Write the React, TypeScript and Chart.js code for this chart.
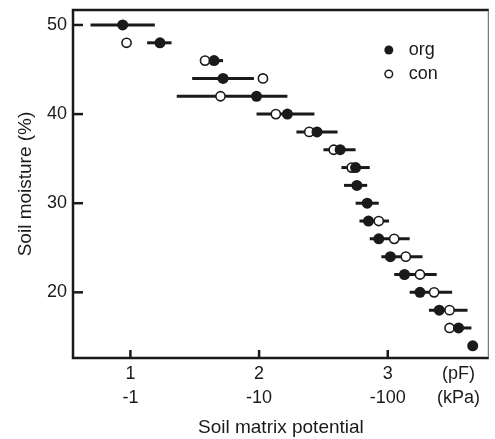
import { useEffect, useRef } from "react";
import { Chart, registerables } from "chart.js";
Chart.register(...registerables);

const orgMoisture = [50, 48, 46, 44, 42, 40, 38, 36, 34, 32, 30, 28, 26, 24, 22, 20, 18, 16, 14];
const orgPF = [0.94, 1.23, 1.65, 1.72, 1.98, 2.22, 2.45, 2.63, 2.75, 2.76, 2.84, 2.85, 2.93, 3.02, 3.13, 3.25, 3.4, 3.55, 3.66];
const orgLow = [0.69, 1.13, 1.62, 1.48, 1.36, 1.98, 2.29, 2.5, 2.64, 2.66, 2.75, 2.78, 2.86, 2.95, 3.05, 3.17, 3.32, 3.48, null];
const orgHigh = [1.19, 1.32, 1.72, 1.96, 2.22, 2.43, 2.61, 2.75, 2.86, 2.84, 2.93, 3.01, 3.17, 3.27, 3.38, 3.5, 3.62, 3.65, null];
const conMoisture = [48, 46, 44, 42, 40, 38, 36, 34, 28, 26, 24, 22, 20, 18, 16];
const conPF = [0.97, 1.58, 2.03, 1.7, 2.13, 2.39, 2.58, 2.72, 2.93, 3.05, 3.14, 3.25, 3.36, 3.48, 3.48];
const xTickValues = [1, 2, 3];
const xTickPF = ["1", "2", "3"];
const xTickKPa = ["-1", "-10", "-100"];
const unitLabels = ["(pF)", "(kPa)"];
const unitLabelPos = 3.55;
const yTickValues = [20, 30, 40, 50];
const seriesNames = ["org", "con"];

const INK = "#1a1a1a";
const FONT = "'Liberation Sans', Arial, Helvetica, sans-serif";

export default function App() {
  const ref = useRef<HTMLCanvasElement | null>(null);
  useEffect(() => {
    document.body.style.margin = "0";
    if (!ref.current) return;

    const decor = {
      id: "decor",
      beforeDatasetsDraw(chart: any) {
        const { ctx, scales } = chart;
        const xs = scales.x, ys = scales.y;
        ctx.save();
        ctx.strokeStyle = INK;
        ctx.lineWidth = 3;
        ctx.lineCap = "butt";
        orgMoisture.forEach((m, i) => {
          const lo = orgLow[i], hi = orgHigh[i];
          if (lo == null || hi == null) return;
          const py = ys.getPixelForValue(m);
          ctx.beginPath();
          ctx.moveTo(xs.getPixelForValue(lo), py);
          ctx.lineTo(xs.getPixelForValue(hi), py);
          ctx.stroke();
        });
        ctx.restore();
      },
      afterDraw(chart: any) {
        const { ctx, chartArea: a, scales } = chart;
        const xs = scales.x, ys = scales.y;
        ctx.save();
        ctx.strokeStyle = INK;
        // frame
        ctx.lineWidth = 2.5;
        ctx.beginPath();
        ctx.moveTo(a.right, a.top);
        ctx.lineTo(a.left, a.top);
        ctx.lineTo(a.left, a.bottom);
        ctx.lineTo(a.right, a.bottom);
        ctx.stroke();
        ctx.lineWidth = 1;
        ctx.strokeStyle = "#555";
        ctx.beginPath();
        ctx.moveTo(a.right - 0.5, a.top);
        ctx.lineTo(a.right - 0.5, a.bottom);
        ctx.stroke();
        // inward ticks
        ctx.strokeStyle = INK;
        ctx.lineWidth = 2.5;
        yTickValues.forEach((v) => {
          const py = ys.getPixelForValue(v);
          ctx.beginPath();
          ctx.moveTo(a.left, py);
          ctx.lineTo(a.left + 10, py);
          ctx.stroke();
        });
        xTickValues.forEach((v) => {
          const px = xs.getPixelForValue(v);
          ctx.beginPath();
          ctx.moveTo(px, a.bottom);
          ctx.lineTo(px, a.bottom - 8);
          ctx.stroke();
        });
        // legend
        const lx = a.right - 100;
        const ly = [a.top + 40, a.top + 64];
        ctx.fillStyle = INK;
        ctx.beginPath();
        ctx.arc(lx, ly[0], 4.5, 0, Math.PI * 2);
        ctx.fill();
        ctx.beginPath();
        ctx.lineWidth = 1.5;
        ctx.fillStyle = "#fff";
        ctx.arc(lx, ly[1], 3.8, 0, Math.PI * 2);
        ctx.fill();
        ctx.stroke();
        ctx.fillStyle = INK;
        ctx.font = `18px ${FONT}`;
        ctx.textBaseline = "middle";
        ctx.textAlign = "left";
        ctx.fillText(seriesNames[0], lx + 20, ly[0]);
        ctx.fillText(seriesNames[1], lx + 20, ly[1]);
        ctx.restore();
      },
    };

    const chart = new Chart(ref.current, {
      type: "scatter",
      data: {
        datasets: [
          {
            label: seriesNames[0],
            data: orgMoisture.map((m, i) => ({ x: orgPF[i], y: m })),
            pointRadius: 5.5,
            pointBackgroundColor: INK,
            pointBorderWidth: 0,
            pointBorderColor: INK,
          },
          {
            label: seriesNames[1],
            data: conMoisture.map((m, i) => ({ x: conPF[i], y: m })),
            pointRadius: 4.6,
            pointBackgroundColor: "#fff",
            pointBorderWidth: 1.6,
            pointBorderColor: INK,
          },
        ],
      },
      options: {
        responsive: false,
        animation: false,
        layout: { padding: { top: 10, right: 2, left: 0, bottom: 0 } },
        plugins: { legend: { display: false }, tooltip: { enabled: false } },
        scales: {
          x: {
            type: "linear",
            min: 0.554,
            max: 3.785,
            grid: { display: false, drawTicks: false },
            border: { display: false },
            afterBuildTicks: (s: any) => {
              s.ticks = [...xTickValues, unitLabelPos].map((v) => ({ value: v }));
            },
            afterFit: (s: any) => {
              s.height = 81;
              s.paddingLeft = 0;
              s.paddingRight = 0;
            },
            ticks: {
              color: INK,
              padding: 5,
              maxRotation: 0,
              autoSkip: false,
              font: { family: FONT, size: 18, lineHeight: 1.28 },
              callback: (_v: any, i: number) =>
                i < xTickValues.length ? [xTickPF[i], xTickKPa[i]] : unitLabels,
            },
            title: {
              display: true,
              text: "Soil matrix potential",
              color: INK,
              font: { family: FONT, size: 19 },
              padding: { top: 0, bottom: 0 },
            },
          },
          y: {
            type: "linear",
            min: 12.63,
            max: 51.68,
            grid: { display: false, drawTicks: false },
            border: { display: false },
            afterBuildTicks: (s: any) => {
              s.ticks = yTickValues.map((v) => ({ value: v }));
            },
            afterFit: (s: any) => {
              s.width = 73;
              s.paddingTop = 0;
              s.paddingBottom = 0;
            },
            ticks: {
              color: INK,
              padding: 6,
              font: { family: FONT, size: 18 },
            },
            title: {
              display: true,
              text: "Soil moisture (%)",
              color: INK,
              font: { family: FONT, size: 19 },
              padding: { top: 14, bottom: 0 },
            },
          },
        },
      },
      plugins: [decor],
    } as any);
    return () => chart.destroy();
  }, []);
  return (
    <div style={{ width: 495, height: 439 }}>
      <canvas ref={ref} width={495} height={439} />
    </div>
  );
}
